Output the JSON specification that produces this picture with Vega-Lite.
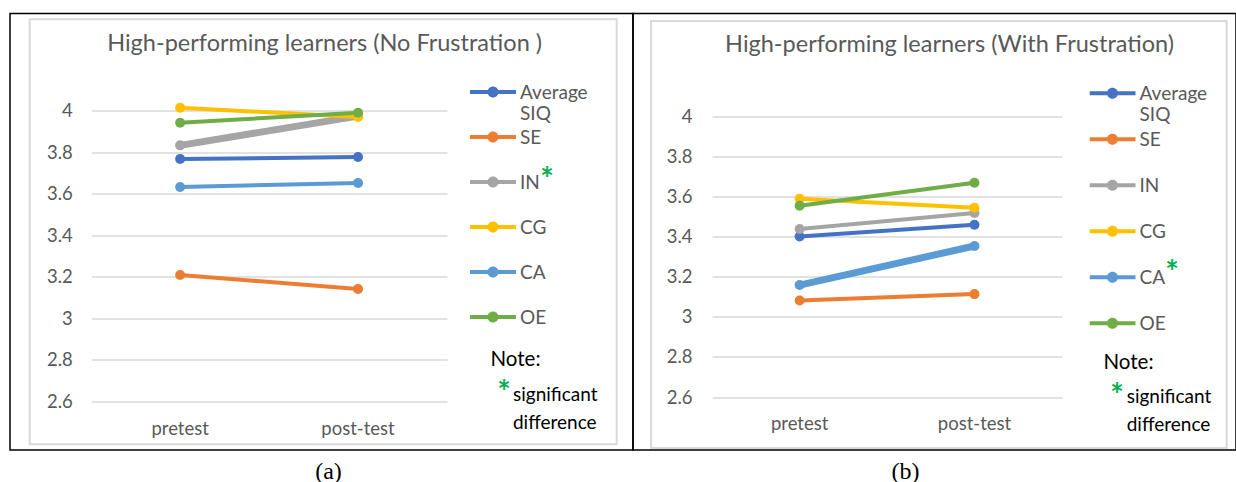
{
  "$schema": "https://vega.github.io/schema/vega-lite/v6.json",
  "background": "white",
  "padding": {"left": 9, "top": 12.5, "right": 0, "bottom": 0},
  "spacing": 0,
  "bounds": "flush",
  "datasets": {
    "no_frustration": [
      {"measure": "Average SIQ", "test": "pretest", "score": 3.766},
      {"measure": "Average SIQ", "test": "post-test", "score": 3.776},
      {"measure": "SE", "test": "pretest", "score": 3.207},
      {"measure": "SE", "test": "post-test", "score": 3.14},
      {"measure": "IN", "test": "pretest", "score": 3.832},
      {"measure": "IN", "test": "post-test", "score": 3.973},
      {"measure": "CG", "test": "pretest", "score": 4.013},
      {"measure": "CG", "test": "post-test", "score": 3.969},
      {"measure": "CA", "test": "pretest", "score": 3.631},
      {"measure": "CA", "test": "post-test", "score": 3.651},
      {"measure": "OE", "test": "pretest", "score": 3.941},
      {"measure": "OE", "test": "post-test", "score": 3.989}
    ],
    "with_frustration": [
      {"measure": "Average SIQ", "test": "pretest", "score": 3.402},
      {"measure": "Average SIQ", "test": "post-test", "score": 3.46},
      {"measure": "SE", "test": "pretest", "score": 3.082},
      {"measure": "SE", "test": "post-test", "score": 3.114},
      {"measure": "IN", "test": "pretest", "score": 3.439},
      {"measure": "IN", "test": "post-test", "score": 3.519},
      {"measure": "CG", "test": "pretest", "score": 3.59},
      {"measure": "CG", "test": "post-test", "score": 3.545},
      {"measure": "CA", "test": "pretest", "score": 3.159},
      {"measure": "CA", "test": "post-test", "score": 3.354},
      {"measure": "OE", "test": "pretest", "score": 3.555},
      {"measure": "OE", "test": "post-test", "score": 3.67}
    ]
  },
  "hconcat": [
    {
      "width": 623,
      "height": 436.5,
      "view": {"stroke": "black", "strokeWidth": 1.5},
      "data": {"name": "no_frustration"},
      "title": {
        "text": "High-performing learners (No Frustration )",
        "font": "Lato", "fontSize": 23.5, "fontWeight": "normal", "color": "#595959",
        "anchor": "middle", "frame": "group", "baseline": "alphabetic",
        "offset": -60.5, "dx": 3.1
      },
      "layer": [
        {
          "data": {"values": [{}]},
          "layer": [
            {
              "mark": {"type": "rect", "fill": null, "stroke": "#D9D9D9", "strokeWidth": 2},
              "encoding": {
                "x": {"datum": 0, "type": "quantitative", "scale": {"domain": [0, 1], "range": [19.7, 606.7]}, "axis": null},
                "x2": {"datum": 1},
                "y": {"datum": 0, "type": "quantitative", "scale": {"domain": [0, 1], "range": [430.8, 5.8]}, "axis": null},
                "y2": {"datum": 1}
              }
            },
            {
              "mark": {"type": "text", "text": "*", "align": "center", "baseline": "alphabetic", "font": "Lato", "fontSize": 32, "fontWeight": "bold", "fill": "#00B050"},
              "encoding": {
                "x": {"datum": 0.8813, "type": "quantitative", "scale": {"domain": [0, 1], "range": [19.7, 606.7]}, "axis": null},
                "y": {"datum": 0.597, "type": "quantitative", "scale": {"domain": [0, 1], "range": [430.8, 5.8]}, "axis": null}
              }
            },
            {
              "mark": {"type": "text", "text": "Note:", "align": "left", "baseline": "alphabetic", "font": "Lato", "fontSize": 20.5, "fill": "black"},
              "encoding": {
                "x": {"datum": 0.785, "type": "quantitative", "scale": {"domain": [0, 1], "range": [19.7, 606.7]}, "axis": null},
                "y": {"datum": 0.185, "type": "quantitative", "scale": {"domain": [0, 1], "range": [430.8, 5.8]}, "axis": null}
              }
            },
            {
              "mark": {"type": "text", "text": "*", "align": "center", "baseline": "alphabetic", "font": "Lato", "fontSize": 32, "fontWeight": "bold", "fill": "#00B050"},
              "encoding": {
                "x": {"datum": 0.808, "type": "quantitative", "scale": {"domain": [0, 1], "range": [19.7, 606.7]}, "axis": null},
                "y": {"datum": 0.095, "type": "quantitative", "scale": {"domain": [0, 1], "range": [430.8, 5.8]}, "axis": null}
              }
            },
            {
              "mark": {"type": "text", "text": "significant\ndifference", "lineBreak": "\n", "lineHeight": 28, "align": "left", "baseline": "alphabetic", "font": "Lato", "fontSize": 19, "fill": "black"},
              "encoding": {
                "x": {"datum": 0.8233, "type": "quantitative", "scale": {"domain": [0, 1], "range": [19.7, 606.7]}, "axis": null},
                "y": {"datum": 0.103, "type": "quantitative", "scale": {"domain": [0, 1], "range": [430.8, 5.8]}, "axis": null}
              }
            }
          ]
        },
        {
          "encoding": {
            "x": {
              "field": "test", "type": "nominal", "sort": ["pretest", "post-test"],
              "scale": {"type": "band", "range": [81.2, 437], "paddingInner": 0, "paddingOuter": 0},
              "axis": {
                "title": "(a)", "titleFont": "Liberation Serif", "titleFontSize": 24, "titleFontWeight": "normal", "titleColor": "black",
                "titleX": 318, "titleY": 70, "titleBaseline": "middle", "titleAlign": "center",
                "offset": -49, "domain": false, "ticks": false, "grid": false,
                "labelFont": "Lato", "labelFontSize": 18.5, "labelColor": "#595959", "labelBaseline": "middle", "labelPadding": 27.5, "labelAngle": 0
              }
            },
            "y": {
              "field": "score", "type": "quantitative",
              "scale": {"domain": [2.6, 4], "range": [387.5, 97], "nice": false, "zero": false},
              "axis": {
                "title": null, "values": [2.6, 2.8, 3, 3.2, 3.4, 3.6, 3.8, 4], "format": "~g",
                "offset": -62.3, "domain": false, "ticks": false, "labelPadding": 0,
                "labelFont": "Lato", "labelFontSize": 18.5, "labelColor": "#595959",
                "grid": true, "gridColor": "#D9D9D9", "gridWidth": 1.5
              }
            }
          },
          "layer": [
            {
              "mark": {"type": "line", "strokeCap": "round", "strokeJoin": "round"},
              "encoding": {
                "stroke": {
                  "field": "measure", "type": "nominal",
                  "scale": {"domain": ["Average SIQ", "SE", "IN", "CG", "CA", "OE"], "range": ["#4472C4", "#ED7D31", "#A5A5A5", "#FFC000", "#5B9BD5", "#70AD47"]},
                  "legend": null
                },
                "strokeWidth": {"condition": {"test": "datum.measure === 'IN'", "value": 7}, "value": 4}
              }
            },
            {
              "mark": {"type": "circle", "size": 100, "opacity": 1},
              "encoding": {
                "color": {
                  "field": "measure", "type": "nominal",
                  "scale": {"domain": ["Average SIQ", "SE", "IN", "CG", "CA", "OE"], "range": ["#4472C4", "#ED7D31", "#A5A5A5", "#FFC000", "#5B9BD5", "#70AD47"]},
                  "legend": {
                    "orient": "none", "legendX": 460, "legendY": 65.6, "title": null, "padding": 0, "rowPadding": 0, "clipHeight": 39.4, "direction": "vertical",
                    "symbolType": "M-1,-0.383H1V-0.209H-1ZM0.239,-0.296A0.239,0.239,0,1,1,-0.239,-0.296A0.239,0.239,0,1,1,0.239,-0.296Z",
                    "symbolSize": 2116, "symbolStrokeWidth": 0,
                    "labelFont": "Lato", "labelFontSize": 19, "labelColor": "#595959", "labelBaseline": "alphabetic", "labelLineHeight": 24, "labelOffset": 4, "labelLimit": 200,
                    "labelExpr": "datum.label === 'Average SIQ' ? ['Average', 'SIQ'] : [datum.label, '']",
                    "encode": {
                      "symbols": {
                        "update": {
                          "size": {"value": 2116},
                          "shape": {"signal": "datum.value === 'IN' ? 'M-1,-0.444H1V-0.148H-1ZM0.239,-0.296A0.239,0.239,0,1,1,-0.239,-0.296A0.239,0.239,0,1,1,0.239,-0.296Z' : 'M-1,-0.383H1V-0.209H-1ZM0.239,-0.296A0.239,0.239,0,1,1,-0.239,-0.296A0.239,0.239,0,1,1,0.239,-0.296Z'"}
                        }
                      }
                    }
                  }
                }
              }
            }
          ]
        }
      ],
      "resolve": {"scale": {"x": "independent", "y": "independent"}}
    },
    {
      "width": 603,
      "height": 436.5,
      "view": {"stroke": "black", "strokeWidth": 1.5},
      "data": {"name": "with_frustration"},
      "title": {
        "text": "High-performing learners (With Frustration)",
        "font": "Lato", "fontSize": 23.5, "fontWeight": "normal", "color": "#595959",
        "anchor": "middle", "frame": "group", "baseline": "alphabetic",
        "offset": -62, "dx": 15.1
      },
      "layer": [
        {
          "data": {"values": [{}]},
          "layer": [
            {
              "mark": {"type": "rect", "fill": null, "stroke": "#D9D9D9", "strokeWidth": 2},
              "encoding": {
                "x": {"datum": 0, "type": "quantitative", "scale": {"domain": [0, 1], "range": [18, 593.7]}, "axis": null},
                "x2": {"datum": 1},
                "y": {"datum": 0, "type": "quantitative", "scale": {"domain": [0, 1], "range": [434.5, 7.5]}, "axis": null},
                "y2": {"datum": 1}
              }
            },
            {
              "mark": {"type": "text", "text": "*", "align": "center", "baseline": "alphabetic", "font": "Lato", "fontSize": 32, "fontWeight": "bold", "fill": "#00B050"},
              "encoding": {
                "x": {"datum": 0.905, "type": "quantitative", "scale": {"domain": [0, 1], "range": [18, 593.7]}, "axis": null},
                "y": {"datum": 0.384, "type": "quantitative", "scale": {"domain": [0, 1], "range": [434.5, 7.5]}, "axis": null}
              }
            },
            {
              "mark": {"type": "text", "text": "Note:", "align": "left", "baseline": "alphabetic", "font": "Lato", "fontSize": 20.5, "fill": "black"},
              "encoding": {
                "x": {"datum": 0.786, "type": "quantitative", "scale": {"domain": [0, 1], "range": [18, 593.7]}, "axis": null},
                "y": {"datum": 0.1857, "type": "quantitative", "scale": {"domain": [0, 1], "range": [434.5, 7.5]}, "axis": null}
              }
            },
            {
              "mark": {"type": "text", "text": "*", "align": "center", "baseline": "alphabetic", "font": "Lato", "fontSize": 32, "fontWeight": "bold", "fill": "#00B050"},
              "encoding": {
                "x": {"datum": 0.8094, "type": "quantitative", "scale": {"domain": [0, 1], "range": [18, 593.7]}, "axis": null},
                "y": {"datum": 0.097, "type": "quantitative", "scale": {"domain": [0, 1], "range": [434.5, 7.5]}, "axis": null}
              }
            },
            {
              "mark": {"type": "text", "text": "significant\ndifference", "lineBreak": "\n", "lineHeight": 28, "align": "left", "baseline": "alphabetic", "font": "Lato", "fontSize": 19, "fill": "black"},
              "encoding": {
                "x": {"datum": 0.8263, "type": "quantitative", "scale": {"domain": [0, 1], "range": [18, 593.7]}, "axis": null},
                "y": {"datum": 0.106, "type": "quantitative", "scale": {"domain": [0, 1], "range": [434.5, 7.5]}, "axis": null}
              }
            }
          ]
        },
        {
          "encoding": {
            "x": {
              "field": "test", "type": "nominal", "sort": ["pretest", "post-test"],
              "scale": {"type": "band", "range": [79.2, 428.9], "paddingInner": 0, "paddingOuter": 0},
              "axis": {
                "title": "(b)", "titleFont": "Liberation Serif", "titleFontSize": 24, "titleFontWeight": "normal", "titleColor": "black",
                "titleX": 272, "titleY": 74, "titleBaseline": "middle", "titleAlign": "center",
                "offset": -53, "domain": false, "ticks": false, "grid": false,
                "labelFont": "Lato", "labelFontSize": 18.5, "labelColor": "#595959", "labelBaseline": "middle", "labelPadding": 26.7, "labelAngle": 0
              }
            },
            "y": {
              "field": "score", "type": "quantitative",
              "scale": {"domain": [2.6, 4], "range": [383.5, 103.2], "nice": false, "zero": false},
              "axis": {
                "title": null, "values": [2.6, 2.8, 3, 3.2, 3.4, 3.6, 3.8, 4], "format": "~g",
                "offset": -59.1, "domain": false, "ticks": false, "labelPadding": 0,
                "labelFont": "Lato", "labelFontSize": 18.5, "labelColor": "#595959",
                "grid": true, "gridColor": "#D9D9D9", "gridWidth": 1.5
              }
            }
          },
          "layer": [
            {
              "mark": {"type": "line", "strokeCap": "round", "strokeJoin": "round"},
              "encoding": {
                "stroke": {
                  "field": "measure", "type": "nominal",
                  "scale": {"domain": ["Average SIQ", "SE", "IN", "CG", "CA", "OE"], "range": ["#4472C4", "#ED7D31", "#A5A5A5", "#FFC000", "#5B9BD5", "#70AD47"]},
                  "legend": null
                },
                "strokeWidth": {"condition": {"test": "datum.measure === 'CA'", "value": 7}, "value": 4}
              }
            },
            {
              "mark": {"type": "circle", "size": 100, "opacity": 1},
              "encoding": {
                "color": {
                  "field": "measure", "type": "nominal",
                  "scale": {"domain": ["Average SIQ", "SE", "IN", "CG", "CA", "OE"], "range": ["#4472C4", "#ED7D31", "#A5A5A5", "#FFC000", "#5B9BD5", "#70AD47"]},
                  "legend": {
                    "orient": "none", "legendX": 456.5, "legendY": 66.2, "title": null, "padding": 0, "rowPadding": 0, "clipHeight": 40.8, "direction": "vertical",
                    "symbolType": "M-1,-0.383H1V-0.209H-1ZM0.239,-0.296A0.239,0.239,0,1,1,-0.239,-0.296A0.239,0.239,0,1,1,0.239,-0.296Z",
                    "symbolSize": 2116, "symbolStrokeWidth": 0,
                    "labelFont": "Lato", "labelFontSize": 19, "labelColor": "#595959", "labelBaseline": "alphabetic", "labelLineHeight": 24, "labelOffset": 4, "labelLimit": 200,
                    "labelExpr": "datum.label === 'Average SIQ' ? ['Average', 'SIQ'] : [datum.label, '']",
                    "encode": {
                      "symbols": {
                        "update": {
                          "size": {"value": 2116},
                          "shape": {"signal": "datum.value === 'CA' ? 'M-1,-0.444H1V-0.148H-1ZM0.239,-0.296A0.239,0.239,0,1,1,-0.239,-0.296A0.239,0.239,0,1,1,0.239,-0.296Z' : 'M-1,-0.383H1V-0.209H-1ZM0.239,-0.296A0.239,0.239,0,1,1,-0.239,-0.296A0.239,0.239,0,1,1,0.239,-0.296Z'"}
                        }
                      }
                    }
                  }
                }
              }
            }
          ]
        }
      ],
      "resolve": {"scale": {"x": "independent", "y": "independent"}}
    }
  ],
  "resolve": {"scale": {"color": "independent"}, "legend": {"color": "independent"}}
}
